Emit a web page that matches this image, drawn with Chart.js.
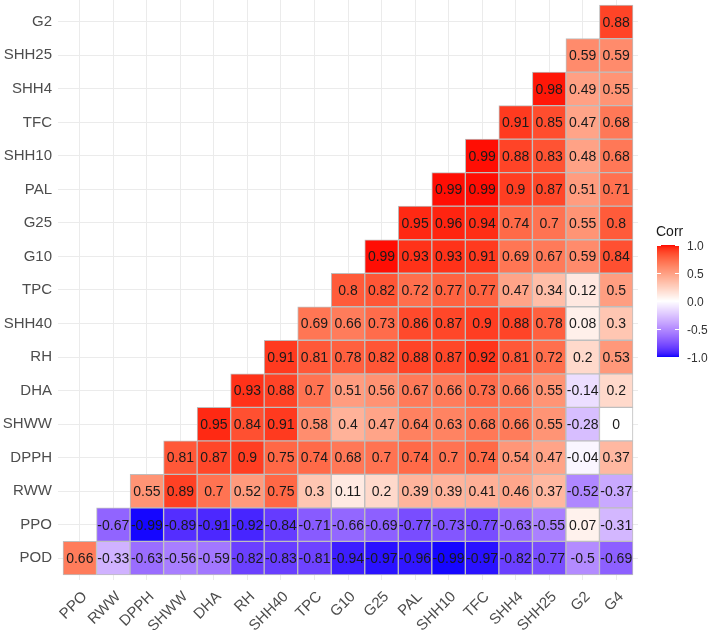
<!DOCTYPE html>
<html>
<head>
<meta charset="utf-8">
<script src="https://cdn.jsdelivr.net/npm/chart.js@4.4.1/dist/chart.umd.min.js"></script>
<style>
  body { margin: 0; background: #fff; }
  canvas { display: block; }
</style>
</head>
<body>
<canvas id="lienzo" width="708" height="630"></canvas>
<script>
// columns left -> right, rows bottom -> top
const colLabels = ['PPO','RWW','DPPH','SHWW','DHA','RH','SHH40','TPC','G10','G25','PAL','SHH10','TFC','SHH4','SHH25','G2','G4']
const rowLabels = ['POD','PPO','RWW','DPPH','SHWW','DHA','RH','SHH40','TPC','G10','G25','PAL','SHH10','TFC','SHH4','SHH25','G2']

// row k starts at column k (lower triangle)
const rPOD   = [0.66,-0.33,-0.63,-0.56,-0.59,-0.82,-0.83,-0.81,-0.94,-0.97,-0.96,-0.99,-0.97,-0.82,-0.77,-0.5,-0.69]
const rPPO   = [-0.67,-0.99,-0.89,-0.91,-0.92,-0.84,-0.71,-0.66,-0.69,-0.77,-0.73,-0.77,-0.63,-0.55,0.07,-0.31]
const rRWW   = [0.55,0.89,0.7,0.52,0.75,0.3,0.11,0.2,0.39,0.39,0.41,0.46,0.37,-0.52,-0.37]
const rDPPH  = [0.81,0.87,0.9,0.75,0.74,0.68,0.7,0.74,0.7,0.74,0.54,0.47,-0.04,0.37]
const rSHWW  = [0.95,0.84,0.91,0.58,0.4,0.47,0.64,0.63,0.68,0.66,0.55,-0.28,0]
const rDHA   = [0.93,0.88,0.7,0.51,0.56,0.67,0.66,0.73,0.66,0.55,-0.14,0.2]
const rRH    = [0.91,0.81,0.78,0.82,0.88,0.87,0.92,0.81,0.72,0.2,0.53]
const rSHH40 = [0.69,0.66,0.73,0.86,0.87,0.9,0.88,0.78,0.08,0.3]
const rTPC   = [0.8,0.82,0.72,0.77,0.77,0.47,0.34,0.12,0.5]
const rG10   = [0.99,0.93,0.93,0.91,0.69,0.67,0.59,0.84]
const rG25   = [0.95,0.96,0.94,0.74,0.7,0.55,0.8]
const rPAL   = [0.99,0.99,0.9,0.87,0.51,0.71]
const rSHH10 = [0.99,0.88,0.83,0.48,0.68]
const rTFC   = [0.91,0.85,0.47,0.68]
const rSHH4  = [0.98,0.49,0.55]
const rSHH25 = [0.59,0.59]
const rG2    = [0.88]
const rowValues = [rPOD,rPPO,rRWW,rDPPH,rSHWW,rDHA,rRH,rSHH40,rTPC,rG10,rG25,rPAL,rSHH10,rTFC,rSHH4,rSHH25,rG2]

const legendTicks = [1.0, 0.5, 0.0, -0.5, -1.0]

// --- colour: blue / white / red gradient interpolated in Lab (like ggplot) ---
function toLin(c){ c /= 255; return c <= 0.04045 ? c/12.92 : Math.pow((c+0.055)/1.055, 2.4) }
function fromLin(c){ c = c <= 0.0031308 ? 12.92*c : 1.055*Math.pow(c, 1/2.4) - 0.055; return Math.round(Math.min(1, Math.max(0, c))*255) }
function rgbToLab(rgb){
    let r = toLin(rgb[0]), g = toLin(rgb[1]), b = toLin(rgb[2])
    let x = (0.4124*r + 0.3576*g + 0.1805*b)/0.95047
    let y = (0.2126*r + 0.7152*g + 0.0722*b)
    let z = (0.0193*r + 0.1192*g + 0.9505*b)/1.08883
    const f = t => t > 0.008856 ? Math.cbrt(t) : 7.787*t + 16/116
    let fx = f(x), fy = f(y), fz = f(z)
    return [116*fy - 16, 500*(fx - fy), 200*(fy - fz)]
}
function labToRgb(lab){
    let fy = (lab[0] + 16)/116, fx = fy + lab[1]/500, fz = fy - lab[2]/200
    const fi = t => t > 0.206893 ? t*t*t : (t - 16/116)/7.787
    let x = fi(fx)*0.95047, y = fi(fy), z = fi(fz)*1.08883
    let r =  3.2406*x - 1.5372*y - 0.4986*z
    let g = -0.9689*x + 1.8758*y + 0.0415*z
    let b =  0.0557*x - 0.2040*y + 1.0570*z
    return [fromLin(r), fromLin(g), fromLin(b)]
}
const labLow = rgbToLab([0,0,255]), labMid = rgbToLab([255,255,255]), labHigh = rgbToLab([255,0,0])
function corrColor(v){
    let end = v < 0 ? labLow : labHigh
    let t = Math.min(1, Math.abs(v))
    let lab = [0,1,2].map(i => labMid[i] + (end[i] - labMid[i])*t)
    let c = labToRgb(lab)
    return 'rgb(' + c[0] + ',' + c[1] + ',' + c[2] + ')'
}

// cells as floating bars
let cells = []
rowValues.forEach((fila, k) => {
    fila.forEach((v, j) => {
        cells.push({x: k + j, y: [k - 0.5, k + 0.5], v: v})
    })
})

const fuente = '"Liberation Sans", Arial, sans-serif'

const etiquetas = {
    id: 'etiquetas',
    afterDatasetsDraw(chart){
        const ctx = chart.ctx
        const meta = chart.getDatasetMeta(0)
        ctx.save()
        ctx.font = '14px ' + fuente
        ctx.fillStyle = '#1a1a1a'
        ctx.textAlign = 'center'
        ctx.textBaseline = 'middle'
        meta.data.forEach((el, i) => {
            const p = el.getCenterPoint()
            ctx.fillText(String(cells[i].v), p.x, p.y + 1)
        })
        ctx.restore()
    }
}

const barraColor = {
    id: 'barraColor',
    afterDraw(chart){
        const ctx = chart.ctx
        const x0 = 657, w = 22, top = 245, bottom = 357
        const yFor = v => 301 - v*56
        ctx.save()
        for (let py = top; py < bottom; py++) {
            let v = 1 - 2*(py - top + 0.5)/(bottom - top)
            ctx.fillStyle = corrColor(v)
            ctx.fillRect(x0, py, w, 1)
        }
        ctx.strokeStyle = '#fff'
        ctx.lineWidth = 1
        ctx.font = '12px ' + fuente
        ctx.fillStyle = '#333'
        ctx.textAlign = 'left'
        ctx.textBaseline = 'middle'
        for (let t of legendTicks) {
            let y = Math.round(yFor(t)) + 0.5
            ctx.beginPath()
            ctx.moveTo(x0, y); ctx.lineTo(x0 + 4, y)
            ctx.moveTo(x0 + w - 4, y); ctx.lineTo(x0 + w, y)
            ctx.stroke()
            ctx.fillText(t.toFixed(1), 687, yFor(t) + 2)
        }
        ctx.font = '14px ' + fuente
        ctx.fillStyle = '#1a1a1a'
        ctx.fillText('Corr', 656, 232)
        ctx.restore()
    }
}

const sinPadding = s => { s.paddingLeft = 0; s.paddingRight = 0; s.paddingTop = 0; s.paddingBottom = 0 }

new Chart(document.getElementById('lienzo'), {
    type: 'bar',
    data: {
        datasets: [{
            data: cells,
            backgroundColor: c => c.raw ? corrColor(c.raw.v) : '#fff',
            borderColor: '#BEBEBE',
            borderWidth: 1,
            borderSkipped: false,
            barPercentage: 1,
            categoryPercentage: 1
        }]
    },
    options: {
        responsive: false,
        animation: false,
        layout: { padding: { top: 0, right: 70, bottom: 0, left: 0 } },
        plugins: { legend: { display: false }, tooltip: { enabled: false } },
        scales: {
            x: {
                type: 'linear',
                offset: false,
                min: -0.65,
                max: 16.65,
                afterBuildTicks: s => { s.ticks = colLabels.map((l, i) => ({value: i})) },
                afterFit: s => { s.height = 50; sinPadding(s) },
                grid: { color: '#EBEBEB', drawTicks: false, offset: false },
                border: { display: false },
                ticks: {
                    autoSkip: false,
                    minRotation: 45,
                    maxRotation: 45,
                    padding: 8,
                    labelOffset: 5,
                    color: '#4D4D4D',
                    font: { family: fuente, size: 15 },
                    callback: v => colLabels[v]
                }
            },
            y: {
                type: 'linear',
                offset: false,
                min: -0.65,
                max: 16.65,
                afterBuildTicks: s => { s.ticks = rowLabels.map((l, i) => ({value: i})) },
                afterFit: s => { s.width = 58; sinPadding(s) },
                grid: { color: '#EBEBEB', drawTicks: false },
                border: { display: false },
                ticks: {
                    autoSkip: false,
                    padding: 6,
                    color: '#4D4D4D',
                    font: { family: fuente, size: 15 },
                    callback: v => rowLabels[v]
                }
            }
        }
    },
    plugins: [etiquetas, barraColor]
})
</script>
</body>
</html>
